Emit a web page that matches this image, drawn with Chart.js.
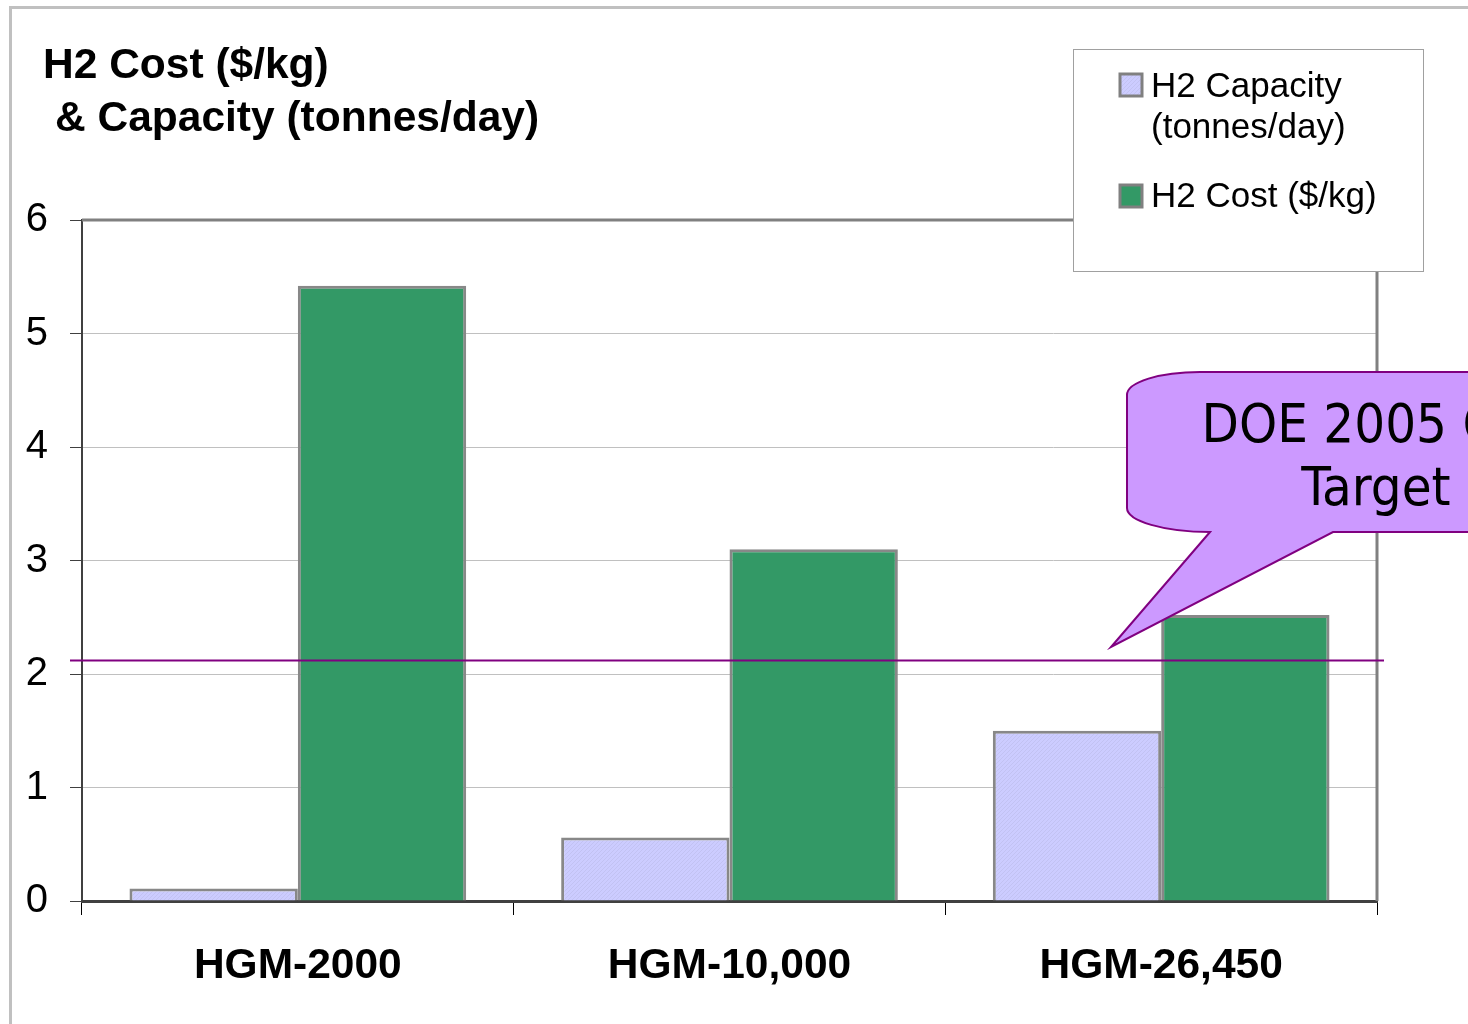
<!DOCTYPE html>
<html>
<head>
<meta charset="utf-8">
<title>H2 Cost & Capacity</title>
<script src="https://cdn.jsdelivr.net/npm/chart.js@4.4.1/dist/chart.umd.min.js"></script>
<style>
    body { margin: 0; background: #ffffff; }
    canvas { display: block; }
</style>
</head>
<body>
<canvas id="myChart" width="1468" height="1024"></canvas>
<script>

// Data ======================================================
var categories = ["HGM-2000", "HGM-10,000", "HGM-26,450"];
var capacityValues = [0.11, 0.56, 1.50];
var costValues = [5.42, 3.10, 2.52];
var targetCost = 2.12;
var yTicks = [0, 1, 2, 3, 4, 5, 6];

var titleLines = ["H2 Cost ($/kg)", "& Capacity (tonnes/day)"];
var legendLabels = [["H2 Capacity", "(tonnes/day)"], ["H2 Cost ($/kg)"]];
var calloutLines = ["DOE 2005 Cost", "Target"];

var ARIAL = "'Liberation Sans', Arial, sans-serif";

//Hatch for capacity bars
function makeHatch() {
    var c = document.createElement("canvas");
    c.width = 4;
    c.height = 4;
    var g = c.getContext("2d");
    g.fillStyle = "#ccccff";
    g.fillRect(0, 0, 4, 4);
    g.fillStyle = "#c2c2f2";
    g.fillRect(0, 3, 1, 1);
    g.fillRect(1, 2, 1, 1);
    g.fillRect(2, 1, 1, 1);
    g.fillRect(3, 0, 1, 1);
    return g.createPattern(c, "repeat");
}

//Extras drawn around the chart
var decorPlugin = {
    id: "decor",
    afterDraw: function (chart) {
        var ctx = chart.ctx;
        var area = chart.chartArea;
        var y = chart.scales.y;
        ctx.save();

        // outer frame
        ctx.strokeStyle = "#c0c0c0";
        ctx.lineWidth = 3;
        ctx.beginPath();
        ctx.moveTo(10.5, 1024);
        ctx.lineTo(10.5, 7.5);
        ctx.lineTo(1468, 7.5);
        ctx.stroke();

        // title
        ctx.fillStyle = "#000000";
        ctx.font = "bold 42.5px " + ARIAL;
        ctx.textAlign = "left";
        ctx.textBaseline = "alphabetic";
        ctx.fillText(titleLines[0], 43, 78);
        ctx.fillText(titleLines[1], 55, 131);

        // plot top and right borders
        ctx.strokeStyle = "#808080";
        ctx.lineWidth = 3;
        ctx.beginPath();
        ctx.moveTo(area.left, area.top);
        ctx.lineTo(area.right, area.top);
        ctx.lineTo(area.right, area.bottom);
        ctx.stroke();

        // target line
        var ty = Math.round(y.getPixelForValue(targetCost)) + 0.5;
        ctx.strokeStyle = "#800080";
        ctx.lineWidth = 2;
        ctx.beginPath();
        ctx.moveTo(area.left - 12, ty);
        ctx.lineTo(area.right + 7, ty);
        ctx.stroke();

        // legend
        ctx.fillStyle = "#ffffff";
        ctx.fillRect(1073, 49, 350, 222);
        ctx.strokeStyle = "#a0a0a0";
        ctx.lineWidth = 1;
        ctx.strokeRect(1073.5, 49.5, 350, 222);

        var boxes = [[1120, 74, chart.data.datasets[0].backgroundColor], [1120, 185, chart.data.datasets[1].backgroundColor]];
        boxes.forEach(function (b) {
            ctx.fillStyle = b[2];
            ctx.fillRect(b[0], b[1], 22, 22);
            ctx.strokeStyle = "#808080";
            ctx.lineWidth = 3;
            ctx.strokeRect(b[0], b[1], 22, 22);
        });
        ctx.fillStyle = "#000000";
        ctx.font = "35px " + ARIAL;
        ctx.fillText(legendLabels[0][0], 1151, 97);
        ctx.fillText(legendLabels[0][1], 1151, 138);
        ctx.fillText(legendLabels[1][0], 1151, 207);

        // callout
        ctx.beginPath();
        ctx.moveTo(1210, 532);
        ctx.lineTo(1111, 647);
        ctx.lineTo(1333, 532);
        ctx.lineTo(1480, 532);
        ctx.lineTo(1480, 372);
        ctx.lineTo(1200, 372);
        ctx.bezierCurveTo(1160, 372, 1127, 382, 1127, 395);
        ctx.lineTo(1127, 508);
        ctx.bezierCurveTo(1127, 521, 1164, 532, 1210, 532);
        ctx.closePath();
        ctx.fillStyle = "#cc99ff";
        ctx.fill();
        ctx.strokeStyle = "#800080";
        ctx.lineWidth = 2;
        ctx.stroke();

        ctx.fillStyle = "#000000";
        ctx.font = "54px 'DejaVu Sans Condensed', 'DejaVu Sans', sans-serif";
        ctx.textAlign = "center";
        ctx.fillText(calloutLines[0], 1386, 442);
        ctx.fillText(calloutLines[1], 1376, 505);

        ctx.restore();
    }
};

//Init chart
var ctx = document.getElementById("myChart").getContext("2d");

var myChartConfig = {
    type: "bar",
    data: {
        labels: categories,
        datasets: [
            {
                label: "H2 Capacity (tonnes/day)",
                data: capacityValues,
                backgroundColor: makeHatch(),
                borderColor: "#888888",
                borderWidth: 3
            },
            {
                label: "H2 Cost ($/kg)",
                data: costValues,
                backgroundColor: "#339966",
                borderColor: "#888888",
                borderWidth: 3
            }
        ]
    },
    options: {
        responsive: false,
        animation: false,
        layout: {
            padding: { left: 0, top: 220, right: 91, bottom: 0 }
        },
        datasets: {
            bar: {
                barPercentage: 1.0,
                categoryPercentage: 0.78
            }
        },
        plugins: {
            legend: { display: false },
            title: { display: false },
            tooltip: { enabled: false }
        },
        scales: {
            x: {
                afterFit: function (scale) { scale.height = 123; },
                grid: {
                    offset: true,
                    drawOnChartArea: false,
                    drawTicks: true,
                    tickLength: 14,
                    tickColor: "#000000"
                },
                border: { display: true, color: "#404040", width: 3 },
                ticks: {
                    color: "#000000",
                    padding: 26,
                    font: { family: ARIAL, size: 42.5, weight: "bold" }
                }
            },
            y: {
                min: 0,
                max: 6,
                afterFit: function (scale) { scale.width = 82; },
                afterBuildTicks: function (scale) {
                    scale.ticks = yTicks.map(function (v) { return { value: v }; });
                },
                grid: {
                    color: "#c0c0c0",
                    lineWidth: 1,
                    drawTicks: true,
                    tickLength: 12,
                    tickColor: "#404040"
                },
                border: { display: true, color: "#404040", width: 2 },
                ticks: {
                    color: "#000000",
                    padding: 22,
                    font: { family: ARIAL, size: 40 }
                }
            }
        }
    },
    plugins: [decorPlugin]
};

var myChart = new Chart(ctx, myChartConfig);

</script>
</body>
</html>
